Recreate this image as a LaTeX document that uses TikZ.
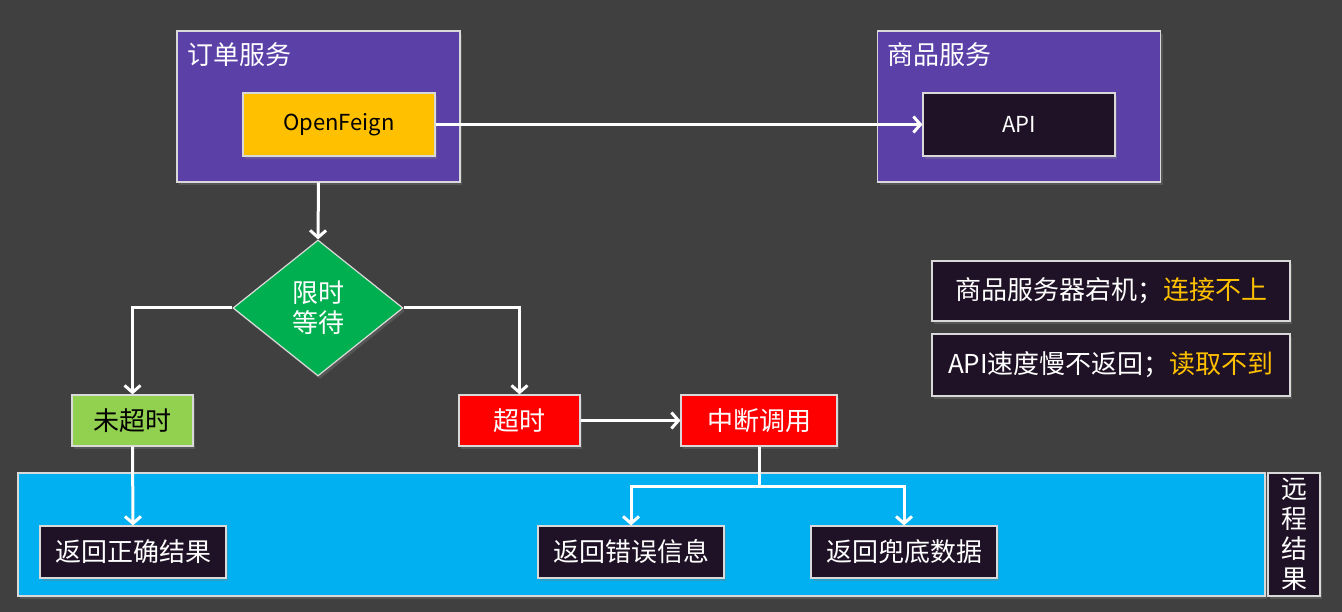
\documentclass[tikz,border=0pt]{standalone}
\usepackage{fontspec}
\setmainfont{Noto Sans CJK SC}
\usetikzlibrary{arrows.meta,shapes.geometric,shadows}
\definecolor{bgray}{HTML}{404040}
\definecolor{svcpurple}{HTML}{5B40A8}
\definecolor{nightbox}{HTML}{1F1226}
\definecolor{skyblue}{HTML}{00B0F0}
\definecolor{okgreen}{HTML}{00B050}
\definecolor{limegreen}{HTML}{92D050}
\definecolor{goldtxt}{HTML}{FFC000}
\definecolor{alarmred}{HTML}{FF0000}

\begin{document}
\begin{tikzpicture}[x=1pt,y=-1pt,
    box/.style={draw=white!85!black,line width=1.2pt,inner sep=0pt,text=white,
                font=\fontsize{26}{30}\selectfont,
                drop shadow={opacity=0.35,shadow xshift=2pt,shadow yshift=-3pt}},
    darkbox/.style={box,fill=nightbox},
    svcbox/.style={box,fill=svcpurple,minimum width=283pt,minimum height=151pt},
    title/.style={anchor=north west,inner sep=0pt,text=white,font=\fontsize{26}{30}\selectfont},
    link/.style={draw=white,line width=3pt,-{Straight Barb[length=7pt,width=16pt,line width=3pt]}}]
  \useasboundingbox[fill=bgray] (0,0) rectangle (1342,612);

  \node[box,fill=skyblue,minimum width=1247pt,minimum height=123pt,drop shadow={opacity=0}] (panel) at (641.5,534.5) {};
  \node[darkbox,minimum width=52pt,minimum height=123pt,align=center] (remote) at (1294,534.5) {远\\程\\结\\果};

  \node[svcbox] (order) at (318.5,106.5) {};
  \node[title] (ordertitle) at (187,42) {订单服务};
  \node[box,fill=goldtxt,text=black,minimum width=192pt,minimum height=63pt,font=\fontsize{22}{26}\selectfont] (feign) at (339,124.5) {OpenFeign};

  \node[svcbox] (goods) at (1019,106.5) {};
  \node[title] (goodstitle) at (887,42) {商品服务};
  \node[darkbox,minimum width=192pt,minimum height=63pt,font=\fontsize{22}{26}\selectfont] (api) at (1019,124.5) {API};

  \node[box,diamond,fill=okgreen,minimum width=170pt,minimum height=136pt,align=center] (wait) at (318,308) {限时\\等待};

  \node[box,fill=limegreen,text=black,minimum width=121pt,minimum height=51pt] (intime) at (132.5,420.5) {未超时};
  \node[box,fill=alarmred,minimum width=121pt,minimum height=51pt] (timeout) at (519.5,420.5) {超时};
  \node[box,fill=alarmred,minimum width=156pt,minimum height=51pt] (cut) at (759,420.5) {中断调用};

  \node[darkbox,minimum width=186pt,minimum height=52pt] (okres) at (133,552) {返回正确结果};
  \node[darkbox,minimum width=186pt,minimum height=52pt] (errres) at (631,552) {返回错误信息};
  \node[darkbox,minimum width=186pt,minimum height=52pt] (fbres) at (904,552) {返回兜底数据};

  \node[darkbox,minimum width=358pt,minimum height=60pt] (down) at (1111,291) {商品服务器宕机；{\color{goldtxt}连接不上}};
  \node[darkbox,minimum width=358pt,minimum height=62pt] (slow) at (1111,365) {API速度慢不返回；{\color{goldtxt}读取不到}};

  \coordinate (fork) at (759,486);
  \draw[link] (feign.east) -- (api.west);
  \draw[link] (order.south) -- (wait.north);
  \draw[link] (wait.west) -| (intime.north);
  \draw[link] (wait.east) -| (timeout.north);
  \draw[link] (timeout.east) -- (cut.west);
  \draw[link] (intime.south) -- (okres.north);
  \draw[draw=white,line width=3pt] (cut.south) -- (fork);
  \draw[link] (fork) -| (errres.north);
  \draw[link] (fork) -| (fbres.north);
\end{tikzpicture}
\end{document}
